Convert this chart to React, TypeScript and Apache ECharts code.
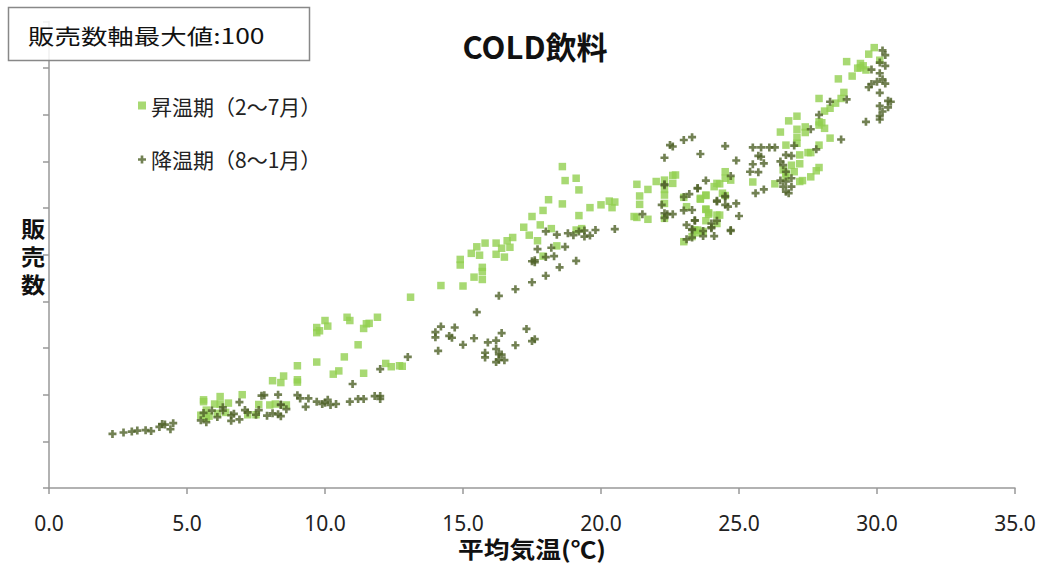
import React, { useEffect, useRef } from "react";
import * as echarts from "echarts";

const chartTitle = "COLD飲料";
const boxLabel = "販売数軸最大値:100";
const yAxisNameChars = ["販", "売", "数"];
const xAxisName = "平均気温(℃)";
const seriesNames = ["昇温期（2～7月）", "降温期（8～1月）"];
const xTicks = { min: 0, max: 35, interval: 5 };
const yTicks = { min: 0, max: 100, interval: 10 };

// 昇温期 (2〜7月): [平均気温, 販売数]
const risingPoints: number[][] = [
  [5.6, 18.5], [5.5, 15.6], [5.7, 16.7], [6.2, 19.6], [6.0, 18.0], [6.2, 18.0], [6.5, 18.2], [6.1, 16.0],
  [6.4, 16.2], [7.0, 20.0], [7.5, 15.7], [7.6, 17.9], [8.1, 23.0], [8.4, 22.6], [9.0, 22.7], [8.0, 17.8],
  [8.2, 18.0], [8.6, 17.8], [7.2, 15.7], [5.6, 18.9], [5.8, 15.4], [5.7, 15.0],
  [13.1, 40.9], [9.7, 34.4], [9.8, 33.7], [9.7, 33.3], [10.0, 35.9], [10.1, 34.7], [10.8, 36.6], [10.9, 35.9],
  [11.5, 35.2], [11.4, 34.2], [11.6, 35.3], [11.9, 36.6], [11.2, 30.7], [10.7, 28.1], [9.7, 27.0], [9.0, 26.2],
  [10.3, 24.4], [10.5, 25.1], [11.4, 24.6], [12.2, 26.7], [12.4, 26.0], [12.7, 26.2], [12.8, 26.1], [8.5, 24.0],
  [9.0, 23.2],
  [14.2, 43.4], [15.0, 43.3], [14.9, 47.8], [14.9, 49.0], [15.3, 50.3], [15.6, 49.9], [15.5, 51.7], [15.8, 52.5],
  [15.7, 47.3], [15.7, 46.4], [15.7, 44.7], [15.4, 45.2], [16.2, 52.5], [16.2, 50.1], [16.4, 51.4], [16.5, 49.5],
  [16.6, 53.0], [16.7, 51.6], [16.8, 53.7], [17.2, 55.9], [17.4, 54.2], [17.5, 58.2], [17.8, 56.4], [17.7, 53.0],
  [17.9, 59.5], [18.1, 61.8], [18.2, 55.6], [18.4, 51.9], [17.9, 49.7], [18.6, 68.9], [18.7, 65.9], [19.1, 66.4],
  [19.2, 63.9], [18.6, 60.9], [19.2, 58.4], [19.6, 60.1], [20.0, 60.7], [20.3, 61.5], [20.4, 60.1], [20.5, 61.3],
  [19.1, 55.3], [19.3, 55.6], [21.3, 65.1], [21.4, 62.6], [21.4, 60.8], [21.3, 58.0], [21.7, 57.6], [21.7, 64.0],
  [22.0, 65.7], [22.3, 66.0], [22.3, 64.0], [22.3, 62.8], [22.6, 65.3], [22.7, 67.1], [22.3, 61.0], [22.3, 57.8],
  [23.0, 62.3], [23.1, 60.3], [23.0, 52.8], [23.6, 61.9], [23.8, 62.7], [23.8, 59.8], [23.9, 58.7], [24.2, 58.5],
  [24.2, 56.7], [23.8, 57.3], [23.4, 55.3], [23.5, 54.7], [24.1, 64.6], [24.2, 65.3], [24.5, 67.8], [24.5, 66.4],
  [24.4, 63.2], [21.2, 58.2], [22.6, 67.0],
  [29.9, 94.4], [29.7, 93.0], [30.1, 91.7], [28.9, 91.4], [29.4, 91.0], [29.5, 90.5], [29.3, 90.0], [29.6, 89.6],
  [29.4, 90.1], [29.1, 88.3], [28.6, 87.7], [28.8, 84.8], [28.7, 83.5], [28.5, 82.5], [28.3, 81.4], [28.1, 80.8],
  [27.9, 83.5], [27.9, 78.5], [28.0, 78.3], [27.9, 77.8], [28.1, 77.1], [28.3, 75.0], [27.1, 79.7], [26.8, 78.7],
  [26.5, 76.3], [27.1, 76.9], [27.4, 77.4], [27.4, 76.2], [27.1, 75.2], [27.1, 73.9], [26.7, 73.5], [27.5, 71.9],
  [27.6, 71.9], [27.9, 73.5], [27.2, 71.4], [26.9, 69.2], [27.2, 69.5], [26.6, 68.2], [26.7, 67.5], [27.0, 67.8],
  [26.7, 66.7], [27.6, 66.7], [27.2, 65.7], [27.3, 65.9], [27.8, 68.0], [27.9, 68.7], [26.3, 65.2], [25.5, 65.6],
  [24.7, 66.0], [24.3, 65.2], [24.5, 62.7], [23.8, 62.8], [23.6, 62.1], [23.8, 59.7], [24.3, 58.5], [23.9, 59.0],
  [23.5, 55.3], [23.7, 55.0], [23.3, 53.9],
];

// 降温期 (8〜1月): [平均気温, 販売数]
const fallingPoints: number[][] = [
  [2.3, 11.6], [2.7, 11.9], [3.0, 12.1], [3.2, 12.3], [3.5, 12.4], [3.7, 12.2], [4.0, 13.1], [4.1, 13.7],
  [4.2, 13.6], [4.4, 12.6], [4.5, 13.9], [5.5, 14.5], [5.7, 14.1], [5.6, 16.1], [5.9, 16.6], [6.1, 15.2],
  [6.3, 17.3], [6.3, 16.6], [6.6, 15.6], [6.6, 14.4], [6.7, 15.9], [6.9, 14.7], [6.9, 18.4], [7.1, 16.7],
  [7.2, 16.2], [7.5, 15.7], [7.6, 16.7], [7.7, 19.8], [7.9, 15.5], [8.1, 16.0], [8.3, 20.0], [8.3, 15.8],
  [8.4, 15.4], [8.4, 17.8], [8.6, 16.9], [9.0, 19.9], [9.1, 19.2], [9.3, 17.4], [9.4, 19.2], [9.7, 18.5],
  [9.9, 18.0], [10.0, 18.3], [10.1, 18.9], [10.2, 17.8], [10.4, 18.0], [11.0, 22.3], [10.9, 18.5], [11.2, 19.1],
  [11.4, 19.1], [11.8, 19.7], [12.0, 19.7], [12.0, 19.1], [12.0, 25.5], [13.0, 28.1], [7.8, 19.9], [8.4, 17.9],
  [15.5, 37.7], [14.2, 34.6], [14.0, 33.4], [14.0, 32.3], [14.1, 29.4], [14.7, 34.4], [14.5, 32.6], [14.6, 32.2],
  [15.0, 30.7], [15.4, 32.1], [15.9, 31.2], [16.2, 31.6], [16.4, 33.2], [16.2, 29.8], [15.8, 29.0], [15.8, 28.0],
  [16.3, 28.7], [16.4, 28.6], [16.2, 27.0], [16.3, 27.5], [16.5, 27.4], [16.9, 30.6], [17.3, 34.1], [17.6, 31.9],
  [17.5, 31.5],
  [16.3, 41.2], [16.9, 42.6], [17.5, 44.1], [18.0, 45.5], [18.5, 47.3], [19.1, 48.7], [17.5, 48.6], [17.6, 48.8],
  [17.6, 48.4], [18.0, 49.5], [18.3, 49.7], [17.7, 51.2], [18.2, 51.5], [18.7, 51.7], [18.0, 55.0], [18.4, 54.3],
  [18.8, 54.6], [19.0, 54.2], [19.2, 55.0], [19.4, 55.2], [19.4, 53.9], [19.6, 54.1], [19.8, 55.3], [20.5, 55.5],
  [21.5, 58.7], [22.2, 60.7], [22.3, 58.9], [22.4, 58.7], [22.6, 58.7], [22.3, 57.9], [22.3, 64.9], [22.3, 65.1],
  [22.3, 70.8], [23.6, 71.6], [23.8, 65.9], [23.5, 64.2], [23.2, 63.0], [23.0, 62.4], [23.0, 59.5], [23.3, 59.6],
  [23.4, 57.4], [23.1, 56.4], [23.3, 55.3], [23.7, 55.1], [23.3, 53.7], [23.1, 53.3], [23.7, 54.0], [24.1, 54.0],
  [24.0, 55.9], [24.2, 57.3], [24.2, 61.6], [24.5, 62.6], [24.5, 60.7], [24.7, 55.3], [23.5, 64.3], [22.5, 73.5],
  [22.6, 73.2], [23.0, 74.6], [23.3, 75.2], [24.5, 73.3], [24.9, 70.2], [24.7, 66.9], [24.5, 62.4], [24.6, 60.3],
  [24.2, 61.4], [24.9, 61.0], [25.0, 58.3], [24.0, 56.7], [24.0, 55.7], [24.7, 55.1], [23.4, 57.3], [23.3, 55.5],
  [25.5, 73.0], [25.8, 73.0], [26.1, 73.0], [26.3, 73.0], [25.7, 71.2], [25.8, 71.0], [25.9, 69.6], [25.5, 69.4],
  [25.4, 67.8], [25.7, 67.7], [25.9, 64.0], [25.6, 63.2], [27.0, 73.4], [26.9, 71.2], [26.7, 71.4], [26.5, 70.0],
  [26.6, 69.2], [26.7, 67.8], [26.9, 66.4], [26.7, 65.7], [26.9, 64.6], [26.7, 63.5], [26.8, 63.2], [26.6, 64.6],
  [26.5, 65.9], [27.8, 72.6], [28.7, 74.7], [27.6, 76.9], [27.9, 80.0], [28.3, 82.8], [28.9, 83.3], [29.6, 78.5],
  [30.2, 93.8], [30.3, 92.8], [30.1, 91.2], [30.3, 90.5], [29.8, 89.7], [30.1, 88.9], [30.2, 87.6], [30.0, 87.1],
  [30.3, 86.7], [29.8, 86.6], [29.7, 85.9], [30.1, 84.7], [30.4, 83.0], [30.5, 82.8], [30.4, 81.6], [30.1, 81.9],
  [30.2, 80.7], [30.1, 79.7], [30.1, 79.0],
];

const CROSS = "path://M3,0H6V3H9V6H6V9H3V6H0V3H3Z";
const FONT = "'Noto Sans CJK JP', 'Noto Sans', sans-serif";

export default function App() {
  const ref = useRef<HTMLDivElement>(null);
  useEffect(() => {
    document.body.style.margin = "0";
    if (!ref.current) return;
    const chart = echarts.init(ref.current, undefined, { renderer: "svg" });
    const yNameTexts = yAxisNameChars.map((ch, i) => ({
      type: "text",
      x: 33,
      y: 227 + i * 28,
      z: 101,
      scaleX: 1.1,
      style: {
        text: ch,
        font: `bold 22px ${FONT}`,
        fill: "#111",
        textAlign: "center",
        textVerticalAlign: "middle",
      },
    }));
    chart.setOption({
      animation: false,
      backgroundColor: "#ffffff",
      grid: { left: 49, right: 28, top: 21.5, bottom: 80 },
      legend: {
        orient: "vertical",
        left: 133,
        top: 90,
        itemGap: 33,
        itemWidth: 8,
        itemHeight: 8,
        textStyle: { fontSize: 21, color: "#222", fontFamily: FONT },
        data: [
          { name: seriesNames[0], icon: "rect" },
          { name: seriesNames[1], icon: CROSS },
        ],
      },
      xAxis: {
        type: "value",
        min: xTicks.min,
        max: xTicks.max,
        interval: xTicks.interval,
        splitLine: { show: false },
        axisLine: { lineStyle: { color: "#999", width: 1.5 } },
        axisTick: { show: true, inside: false, length: 6, lineStyle: { color: "#999", width: 1.5 } },
        axisLabel: {
          formatter: (v: number) => v.toFixed(1),
          fontSize: 21,
          color: "#222",
          fontFamily: "'Noto Sans', sans-serif",
          margin: 24,
        },
      },
      yAxis: {
        type: "value",
        min: yTicks.min,
        max: yTicks.max,
        interval: yTicks.interval,
        splitLine: { show: false },
        axisLine: { show: true, lineStyle: { color: "#999", width: 1.5 } },
        axisTick: { show: true, inside: false, length: 6, lineStyle: { color: "#999", width: 1.5 } },
        axisLabel: { show: false },
      },
      graphic: [
        {
          type: "rect",
          shape: { x: 8.5, y: 7.5, width: 301, height: 53 },
          style: { fill: "rgba(255,255,255,0.85)", stroke: "#888", lineWidth: 1.5 },
          z: 100,
        },
        {
          type: "text",
          x: 28,
          y: 35,
          z: 101,
          scaleX: 1.26,
          style: { text: boxLabel, font: `21px ${FONT}`, fill: "#111", textVerticalAlign: "middle" },
        },
        {
          type: "text",
          x: 535,
          y: 45,
          z: 101,
          style: {
            text: chartTitle,
            font: `bold 31px ${FONT}`,
            fill: "#111",
            textAlign: "center",
            textVerticalAlign: "middle",
          },
        },
        ...yNameTexts,
        {
          type: "text",
          x: 532,
          y: 548,
          z: 101,
          scaleX: 1.12,
          style: {
            text: xAxisName,
            font: `bold 23px ${FONT}`,
            fill: "#111",
            textAlign: "center",
            textVerticalAlign: "middle",
          },
        },
      ],
      series: [
        {
          name: seriesNames[0],
          type: "scatter",
          symbol: "rect",
          symbolSize: 7.5,
          itemStyle: { color: "#92D050" },
          data: risingPoints,
          z: 2,
        },
        {
          name: seriesNames[1],
          type: "scatter",
          symbol: CROSS,
          symbolSize: 8,
          itemStyle: { color: "#4F6228" },
          data: fallingPoints,
          z: 3,
        },
      ],
    });
    return () => chart.dispose();
  }, []);
  return <div ref={ref} style={{ width: 1043, height: 568 }} />;
}
